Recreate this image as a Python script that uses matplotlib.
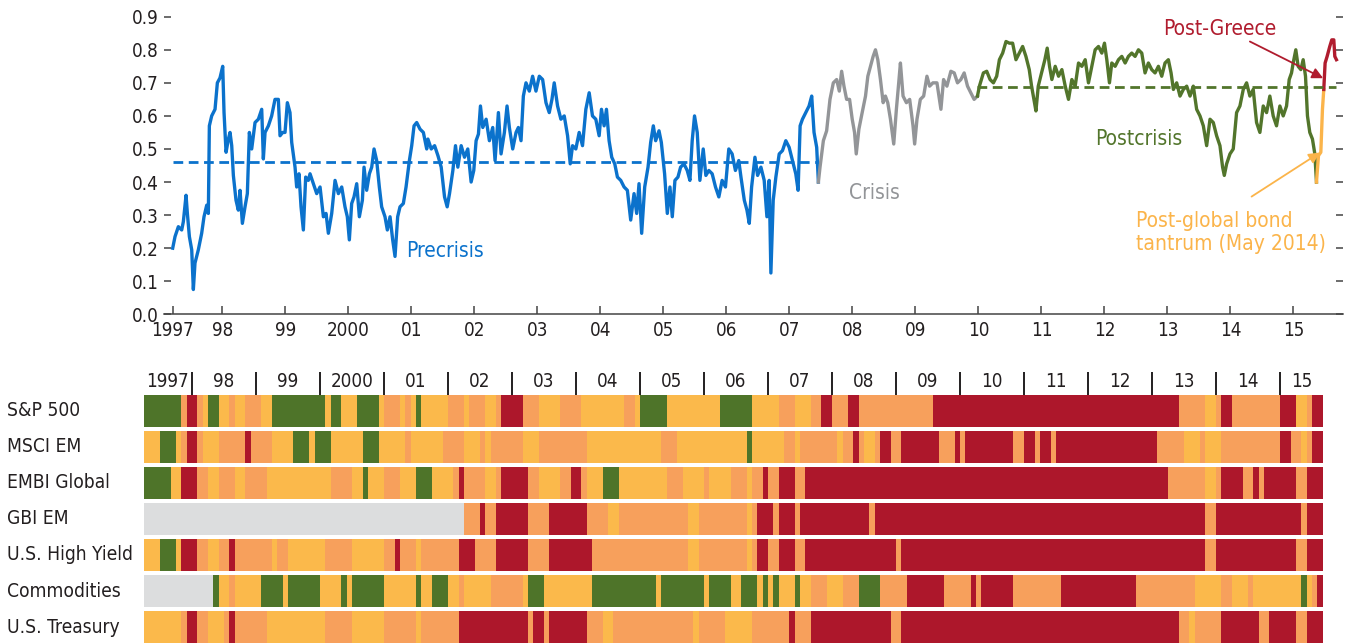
import numpy as np
import matplotlib
matplotlib.use("Agg")
import matplotlib.pyplot as plt

plt.rcParams['font.family'] = ['DejaVu Sans']
plt.rcParams['font.stretch'] = 'condensed'

# ---- CORES ----
BLUE = '#0B72CC'
GRAY = '#939598'
GREEN = '#52752B'
GOLD = '#FBB44A'
RED = '#B01C2E'
TXT = '#231F20'

heat_colors = {'G': '#4E7429', 'Y': '#FBB94B', 'O': '#F7A05C', 'R': '#AD172B', 'N': '#DCDDDE'}

# ---- DADOS: PAINEL SUPERIOR (correlação média) ----
precrisis_t = [1997.21, 1997.247, 1997.30, 1997.353, 1997.379, 1997.422, 1997.443, 1997.475, 1997.512,
               1997.538, 1997.564, 1997.617, 1997.670, 1997.707, 1997.750, 1997.776, 1997.792, 1997.829,
               1997.882, 1997.919, 1997.961, 1998.004, 1998.025, 1998.057, 1998.094, 1998.120, 1998.147,
               1998.173, 1998.215, 1998.252, 1998.279, 1998.316, 1998.358, 1998.395, 1998.427, 1998.464,
               1998.517, 1998.570, 1998.623, 1998.649, 1998.676, 1998.729, 1998.781, 1998.834, 1998.887,
               1998.914, 1998.956, 1998.993, 1999.030, 1999.072, 1999.099, 1999.152, 1999.178, 1999.215,
               1999.247, 1999.284, 1999.321, 1999.363, 1999.390, 1999.443, 1999.496, 1999.549, 1999.602,
               1999.644, 1999.681, 1999.734, 1999.787, 1999.840, 1999.893, 1999.945, 1999.982, 2000.014,
               2000.051, 2000.088, 2000.131, 2000.173, 2000.221, 2000.247, 2000.289, 2000.332, 2000.369,
               2000.406, 2000.448, 2000.490, 2000.527, 2000.580, 2000.617, 2000.660, 2000.702, 2000.739,
               2000.781, 2000.818, 2000.871, 2000.914, 2000.967, 2001.004, 2001.041, 2001.083, 2001.136,
               2001.189, 2001.242,
               2001.261, 2001.314, 2001.367, 2001.420, 2001.472, 2001.525, 2001.567, 2001.604, 2001.657,
               2001.699, 2001.736, 2001.789, 2001.842, 2001.894, 2001.947, 2001.989, 2002.026, 2002.063,
               2002.095, 2002.132, 2002.185, 2002.237, 2002.290, 2002.327, 2002.380, 2002.422, 2002.475,
               2002.517, 2002.554, 2002.607, 2002.660, 2002.697, 2002.739, 2002.776, 2002.818, 2002.871,
               2002.923, 2002.976, 2003.029, 2003.082, 2003.135, 2003.187, 2003.230, 2003.266, 2003.319,
               2003.372, 2003.425, 2003.478, 2003.520, 2003.557, 2003.609, 2003.662, 2003.715, 2003.768,
               2003.821, 2003.873, 2003.926, 2003.979, 2004.016, 2004.058, 2004.095, 2004.137, 2004.179,
               2004.227, 2004.269, 2004.322, 2004.375, 2004.427, 2004.480, 2004.533, 2004.575, 2004.612,
               2004.654, 2004.702, 2004.755, 2004.797, 2004.839, 2004.876, 2004.929, 2004.966, 2005.018,
               2005.061, 2005.103, 2005.140, 2005.182, 2005.230, 2005.272, 2005.325, 2005.377, 2005.420,
               2005.456, 2005.493, 2005.536, 2005.578, 2005.631, 2005.673, 2005.720, 2005.773, 2005.826,
               2005.879, 2005.931, 2005.984, 2006.037, 2006.090, 2006.142, 2006.195,
               2006.230, 2006.283, 2006.325, 2006.362, 2006.399, 2006.452, 2006.494, 2006.547, 2006.599,
               2006.642, 2006.678, 2006.705, 2006.742, 2006.784, 2006.837, 2006.889, 2006.942, 2006.995,
               2007.047, 2007.100, 2007.137, 2007.169, 2007.206, 2007.258, 2007.311, 2007.353, 2007.390,
               2007.432, 2007.459]
precrisis_v = [0.20, 0.235, 0.265, 0.255, 0.28, 0.36, 0.305, 0.235, 0.195,
               0.075, 0.155, 0.195, 0.245, 0.295, 0.33, 0.305, 0.57, 0.60,
               0.62, 0.70, 0.715, 0.75, 0.61, 0.49, 0.53, 0.55, 0.51,
               0.42, 0.345, 0.315, 0.375, 0.275, 0.325, 0.365, 0.55, 0.50,
               0.58, 0.59, 0.62, 0.47, 0.55, 0.57, 0.60, 0.65, 0.65,
               0.54, 0.55, 0.55, 0.64, 0.61, 0.52, 0.445, 0.385, 0.425,
               0.325, 0.255, 0.415, 0.405, 0.425, 0.395, 0.365, 0.385, 0.295,
               0.305, 0.245, 0.305, 0.405, 0.365, 0.385, 0.325, 0.295, 0.225,
               0.335, 0.355, 0.395, 0.295, 0.345, 0.445, 0.375, 0.425, 0.445,
               0.50, 0.465, 0.385, 0.325, 0.295, 0.255, 0.295, 0.225, 0.175,
               0.295, 0.325, 0.335, 0.385, 0.465, 0.51, 0.57, 0.58, 0.56,
               0.55, 0.50,
               0.53, 0.50, 0.51, 0.48, 0.445, 0.355, 0.325, 0.365, 0.435,
               0.51, 0.445, 0.51, 0.475, 0.50, 0.40, 0.435, 0.525, 0.545,
               0.63, 0.565, 0.59, 0.525, 0.565, 0.465, 0.61, 0.485, 0.55,
               0.63, 0.565, 0.50, 0.55, 0.565, 0.525, 0.66, 0.70, 0.675,
               0.72, 0.675, 0.72, 0.71, 0.64, 0.61, 0.65, 0.70, 0.63,
               0.59, 0.60, 0.54, 0.455, 0.51, 0.50, 0.55, 0.51, 0.62,
               0.67, 0.60, 0.59, 0.54, 0.62, 0.57, 0.62, 0.525, 0.475,
               0.455, 0.415, 0.405, 0.385, 0.375, 0.285, 0.365, 0.305, 0.395,
               0.245, 0.385, 0.445, 0.52, 0.57, 0.525, 0.555, 0.52, 0.425,
               0.305, 0.385, 0.295, 0.405, 0.415, 0.445, 0.455, 0.435, 0.405,
               0.525, 0.60, 0.55, 0.405, 0.50, 0.42, 0.435, 0.425, 0.385,
               0.355, 0.405, 0.385, 0.50, 0.485, 0.435, 0.465,
               0.415, 0.345, 0.315, 0.275, 0.385, 0.475, 0.42, 0.445, 0.405,
               0.295, 0.405, 0.125, 0.345, 0.415, 0.485, 0.495, 0.525, 0.505,
               0.465, 0.425, 0.375, 0.57, 0.59, 0.61, 0.63, 0.66, 0.55,
               0.505, 0.40]

crisis_t = [2007.459, 2007.485, 2007.538, 2007.590, 2007.643, 2007.696, 2007.749, 2007.791, 2007.828,
            2007.865, 2007.907, 2007.954, 2007.996, 2008.033, 2008.060, 2008.102, 2008.154, 2008.207,
            2008.244, 2008.286, 2008.328, 2008.365, 2008.402, 2008.444, 2008.487, 2008.523, 2008.560,
            2008.603, 2008.655, 2008.697, 2008.734, 2008.761, 2008.803, 2008.856, 2008.908, 2008.961,
            2008.987, 2009.024, 2009.077, 2009.130, 2009.182, 2009.225, 2009.277, 2009.341, 2009.404,
            2009.446, 2009.499, 2009.562, 2009.615, 2009.667, 2009.720, 2009.773, 2009.826, 2009.878,
            2009.931, 2009.984]
crisis_v = [0.40, 0.445, 0.525, 0.555, 0.65, 0.70, 0.71, 0.675, 0.735,
            0.69, 0.65, 0.65, 0.59, 0.55, 0.485, 0.56, 0.61, 0.66,
            0.72, 0.75, 0.78, 0.80, 0.77, 0.71, 0.64, 0.66, 0.64,
            0.59, 0.515, 0.62, 0.70, 0.76, 0.66, 0.64, 0.65, 0.57,
            0.515, 0.59, 0.65, 0.66, 0.72, 0.69, 0.70, 0.70, 0.62,
            0.71, 0.69, 0.735, 0.73, 0.70, 0.71, 0.73, 0.69, 0.67,
            0.65, 0.66]

postcrisis_t = [2009.984, 2010.015, 2010.078, 2010.131, 2010.184, 2010.237, 2010.289, 2010.332, 2010.384,
                2010.437, 2010.490, 2010.542, 2010.595, 2010.648, 2010.701, 2010.753, 2010.806, 2010.843,
                2010.880, 2010.912, 2010.949, 2011.001, 2011.054, 2011.091, 2011.128, 2011.165, 2011.218,
                2011.271, 2011.324, 2011.377, 2011.429, 2011.482, 2011.535, 2011.588, 2011.641, 2011.694,
                2011.746, 2011.799, 2011.852, 2011.905, 2011.958, 2012.000, 2012.037, 2012.079, 2012.116,
                2012.169, 2012.222, 2012.275, 2012.328, 2012.380, 2012.433, 2012.486, 2012.539, 2012.592,
                2012.644, 2012.697, 2012.750, 2012.803, 2012.856, 2012.909, 2012.961, 2013.014, 2013.057,
                2013.094, 2013.146, 2013.199, 2013.252, 2013.305, 2013.358, 2013.410, 2013.463, 2013.516,
                2013.569, 2013.622, 2013.675, 2013.727, 2013.780, 2013.833, 2013.875, 2013.902, 2013.939,
                2013.992, 2014.044, 2014.097, 2014.150, 2014.203, 2014.256, 2014.308, 2014.361, 2014.414,
                2014.467, 2014.520, 2014.573, 2014.625, 2014.678, 2014.731, 2014.784, 2014.837, 2014.890,
                2014.932, 2014.969, 2014.995, 2015.037, 2015.074, 2015.117, 2015.154, 2015.191, 2015.222,
                2015.259, 2015.301, 2015.339, 2015.365]
postcrisis_v = [0.66, 0.69, 0.73, 0.735, 0.71, 0.70, 0.72, 0.77, 0.79,
                0.825, 0.82, 0.82, 0.77, 0.79, 0.81, 0.78, 0.74, 0.69,
                0.65, 0.615, 0.69, 0.73, 0.77, 0.805, 0.75, 0.71, 0.75,
                0.72, 0.74, 0.69, 0.65, 0.71, 0.69, 0.76, 0.75, 0.77,
                0.70, 0.75, 0.80, 0.81, 0.79, 0.82, 0.77, 0.70, 0.76,
                0.75, 0.77, 0.78, 0.76, 0.78, 0.79, 0.78, 0.80, 0.79,
                0.73, 0.76, 0.74, 0.73, 0.75, 0.72, 0.76, 0.77, 0.73,
                0.68, 0.70, 0.66, 0.68, 0.69, 0.66, 0.69, 0.62, 0.60,
                0.57, 0.51, 0.59, 0.58, 0.54, 0.51, 0.445, 0.42, 0.455,
                0.485, 0.50, 0.61, 0.63, 0.68, 0.70, 0.66, 0.68, 0.58,
                0.55, 0.63, 0.61, 0.66, 0.60, 0.57, 0.63, 0.60, 0.63,
                0.71, 0.73, 0.76, 0.80, 0.75, 0.74, 0.77, 0.72, 0.60,
                0.55, 0.53, 0.485, 0.40]

tantrum_t = [2015.365, 2015.397, 2015.434, 2015.460, 2015.481]
tantrum_v = [0.40, 0.48, 0.49, 0.62, 0.68]

greece_t = [2015.481, 2015.502, 2015.534, 2015.576, 2015.608, 2015.640, 2015.656, 2015.682]
greece_v = [0.68, 0.76, 0.78, 0.81, 0.83, 0.83, 0.78, 0.77]

precrisis_mean = 0.46
postcrisis_mean = 0.686

year_ticks = [precrisis_t[0]] + list(range(1998, 2016))
year_labels = ['1997', '98', '99', '2000'] + ['%02d' % y for y in range(1, 16)]

# ---- DADOS: PAINEL INFERIOR (regime mensal por ativo, abr/1997 a ago/2015) ----
# G = verde, Y = amarelo, O = laranja, R = vermelho, N = sem dados; número = meses
heat_start = 1997.25
assets = ['S&P 500', 'MSCI EM', 'EMBI Global', 'GBI EM', 'U.S. High Yield', 'Commodities', 'U.S. Treasury']
sp500 = "G7 O1 R2 O1 Y1 G2 Y2 O1 Y2 O3 Y2 G10 Y1 G2 Y3 G4 Y1 O3 Y1 O1 Y1 G1 Y5 O3 Y1 O3 Y2 O1 R4 O3 Y4 O4 Y8 O2 Y1 G5 Y10 G6 Y5 O3 Y3 O2 R2 O3 R2 O14 R46 O5 Y2 O1 R2 O9 R3 Y2 O1 R2"
msci_em = "Y3 G3 Y1 O1 R2 O1 Y3 O5 R1 O4 Y4 G3 Y1 G3 Y6 G3 Y5 O1 Y6 O4 Y3 O1 Y1 O6 Y3 O9 Y14 O3 Y13 G1 Y6 O2 Y1 O7 Y1 O2 R1 O1 Y2 O1 R2 O2 R7 O3 R1 O1 R9 O2 R2 O1 R2 O1 R19 O5 Y3 O1 Y3 O11 R2 O2 Y1 O1 R2"
embi = "G5 Y2 R3 O2 Y2 O3 Y2 O4 Y12 O4 Y2 G1 Y3 O3 Y3 G3 Y4 O1 R1 O4 Y2 O1 R5 O2 Y4 O2 R2 O1 Y3 G3 Y9 O3 Y4 O1 Y4 O3 Y1 O2 R1 O2 R3 O2 R68 O7 Y2 O1 R4 O2 R1 O1 R6 O2 R3"
gbi_em = "N60 O3 R1 O2 R6 O4 R7 O4 Y2 O13 Y2 O9 Y1 O1 R3 O1 R3 O1 R13 O1 R62 O2 R16 O1 R3"
high_yield = "Y3 G3 Y1 R3 O2 Y2 O2 R1 O7 Y1 O2 Y7 O5 Y6 O2 R1 O3 Y1 O7 R3 O4 R6 O4 R8 O18 Y2 O9 Y1 O1 R2 O2 R3 O2 R17 O1 R57 O2 R15 O2 R3"
commodities = "N13 G1 Y2 O1 Y5 G4 Y1 G6 Y4 G1 Y1 G6 Y6 G1 Y2 G3 Y2 O1 Y5 O6 Y1 G3 Y9 G12 Y1 G8 Y1 G4 Y2 G3 Y1 G1 Y1 G1 Y3 G1 Y2 O3 Y3 O3 G4 O5 R7 O5 R1 O1 R6 O9 R14 O11 Y5 O2 Y3 O1 Y9 G1 Y1 O1 R1"
treasury = "Y7 O1 R2 O2 Y3 O1 R1 O6 Y11 O5 Y6 O6 Y1 O7 R13 O1 R2 O1 R7 O3 Y2 O15 Y1 O5 Y5 O7 R1 O3 R15 O2 R52 O2 Y1 O5 R7 O2 R5 O2 R3"
rows = [sp500, msci_em, embi, gbi_em, high_yield, commodities, treasury]

# ---- FIGURA ----
fig = plt.figure(figsize=(13.45, 6.43), dpi=100)

# ---- PAINEL SUPERIOR ----
ax = fig.add_axes([0.12193, 0.51120, 0.87658, 0.47309])
lw = 2.4
ax.plot(precrisis_t, precrisis_v, color=BLUE, lw=lw)
ax.plot(crisis_t, crisis_v, color=GRAY, lw=lw)
ax.plot(postcrisis_t, postcrisis_v, color=GREEN, lw=lw)
ax.plot(tantrum_t, tantrum_v, color=GOLD, lw=lw)
ax.plot(greece_t, greece_v, color=RED, lw=lw)

ax.plot([precrisis_t[0], precrisis_t[-1]], [precrisis_mean] * 2, color=BLUE, lw=2, ls=(0, (3.5, 2)))
ax.plot([postcrisis_t[0], greece_t[-1]], [postcrisis_mean] * 2, color=GREEN, lw=2, ls=(0, (3.5, 2)))

ax.set_xlim(1997.072, 2015.786)
ax.set_ylim(0, 0.92)
ax.set_xticks(year_ticks)
ax.set_xticklabels(year_labels)
ax.set_yticks(np.arange(0, 0.95, 0.1))
ax.set_yticklabels(['%.1f' % v for v in np.arange(0, 0.95, 0.1)])
for s in ['top', 'left', 'right']:
    ax.spines[s].set_visible(False)
ax.spines['bottom'].set_color('#444444')
ax.spines['bottom'].set_linewidth(1.1)
ax.tick_params(axis='x', direction='in', length=5.5, width=1.1, color='#444444', pad=5,
               labelsize=13.5, labelcolor=TXT)
ax.tick_params(axis='y', direction='in', length=5, width=1.1, color='#444444', pad=4,
               labelsize=13.5, labelcolor=TXT, left=True, right=True)

ax.text(2000.91, 0.192, 'Precrisis', color=BLUE, fontsize=15, va='center', ha='left')
ax.text(2007.944, 0.368, 'Crisis', color=GRAY, fontsize=15, va='center', ha='left')
ax.text(2011.852, 0.529, 'Postcrisis', color=GREEN, fontsize=15, va='center', ha='left')
ax.text(2012.924, 0.863, 'Post-Greece', color=RED, fontsize=15, va='center', ha='left')
ax.text(2012.502, 0.2475, 'Post-global bond\ntantrum (May 2014)', color=GOLD, fontsize=15,
        va='center', ha='left', linespacing=1.2)
ax.annotate('', xy=(2015.471, 0.714), xytext=(2014.308, 0.825),
            arrowprops=dict(arrowstyle='-|>', color=RED, lw=1.3, mutation_scale=16, shrinkA=0, shrinkB=0))
ax.annotate('', xy=(2015.418, 0.489), xytext=(2014.335, 0.356),
            arrowprops=dict(arrowstyle='-|>', color=GOLD, lw=1.3, mutation_scale=16, shrinkA=0, shrinkB=0))

# ---- PAINEL INFERIOR ----
ax2 = fig.add_axes([0.10706, 0.0, 0.87636, 0.42302])
row_h = 0.886
for i, row in enumerate(rows):
    codes = [tok[0] for tok in row.split()]
    months = np.array([int(tok[1:]) for tok in row.split()])
    ends = heat_start + np.cumsum(months) / 12.0
    starts = ends - months / 12.0
    ax2.barh([i] * len(codes), months / 12.0, left=starts, height=row_h, align='edge',
             color=[heat_colors[c] for c in codes], linewidth=0)
    ax2.text(-0.1162, i + row_h / 2, assets[i], transform=ax2.get_yaxis_transform(),
             fontsize=13.8, color=TXT, va='center', ha='left')

heat_end = heat_start + sum(int(tok[1:]) for tok in sp500.split()) / 12.0
ax2.set_xlim(heat_start, heat_end)
ax2.set_ylim(6.886, -0.665)
ax2.vlines(range(1998, 2016), -0.647, 0, color=TXT, lw=1.4)
for y, lab in zip(range(1997, 2016), year_labels):
    x0 = max(y, heat_start)
    x1 = min(y + 1, heat_end)
    ax2.text((x0 + x1) / 2, -0.37, lab, fontsize=13.5, color=TXT, ha='center', va='center')
ax2.axis('off')

fig.savefig('out.png', dpi=100)
